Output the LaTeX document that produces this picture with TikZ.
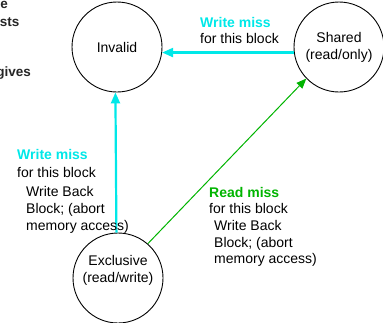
\documentclass[tikz,border=0pt]{standalone}
\usepackage{fontspec}
\setmainfont{Liberation Sans}
\usetikzlibrary{arrows.meta}
\definecolor{misscyan}{RGB}{0,232,232}
\definecolor{missgreen}{RGB}{0,180,0}

\begin{document}
\begin{tikzpicture}[x=1pt,y=-1pt]
\tikzstyle{every node}+=[inner sep=0pt]
\tikzstyle{txt}=[font=\fontsize{14}{17}\selectfont]
\tikzstyle{boldtxt}=[font=\fontsize{14}{17}\selectfont\bfseries]
\tikzstyle{fragtxt}=[font=\fontsize{13.5}{16}\selectfont\bfseries, text=black!85]
\tikzstyle{state}=[draw=black, circle, minimum size=90pt, line width=0.9pt, txt, align=center]
\tikzstyle{cyanarrow}=[draw=misscyan, line width=2.2pt, -{Triangle[length=11pt,width=9pt]}]
\tikzstyle{greenarrow}=[draw=missgreen, line width=1pt, -{Triangle[length=10pt,width=8pt]}]
\useasboundingbox (0,0) rectangle (383,322);
% cut-off slide text
\node [fragtxt, anchor=base east] (fragE) at (8,8) {e};
\node [fragtxt, anchor=base east] (fragSts) at (19.5,26) {sts};
\node [fragtxt, anchor=base east] (fragGives) at (31,76) {gives};
% states
\node [state] (inval) at (117,47) {Invalid};
\node [state] (shared) at (339,47) {Shared\\(read/only)};
\node [state] (excl) at (118,278) {};
\node [txt, align=center] (exclTxt) at (118,270) {Exclusive\\(read/write)};
% transitions
\draw [cyanarrow] (shared.187) -- (inval.353);
\draw [cyanarrow] (excl.92) -- (inval.268);
\draw [greenarrow] (excl.49) -- (shared.224);
% labels
\node [boldtxt, text=misscyan, anchor=base west] (wmTop) at (200,27) {Write miss};
\node [txt, anchor=base west] (wmTopFor) at (200,43) {for this block};
\node [boldtxt, text=misscyan, anchor=base west] (wmLeft) at (17,159) {Write miss};
\node [txt, anchor=base west] (wmLeftFor) at (17,177) {for this block};
\node [txt, anchor=base west] (wmLeftWb1) at (26,196) {Write Back};
\node [txt, anchor=base west] (wmLeftWb2) at (26,213) {Block; (abort};
\node [txt, anchor=base west] (wmLeftWb3) at (26,230) {memory access)};
\node [boldtxt, text=missgreen, anchor=base west] (rmLbl) at (209,197) {Read miss};
\node [txt, anchor=base west] (rmFor) at (209,213) {for this block};
\node [txt, anchor=base west] (rmWb1) at (214,230) {Write Back};
\node [txt, anchor=base west] (rmWb2) at (214,247) {Block; (abort};
\node [txt, anchor=base west] (rmWb3) at (214,263) {memory access)};
\end{tikzpicture}
\end{document}
